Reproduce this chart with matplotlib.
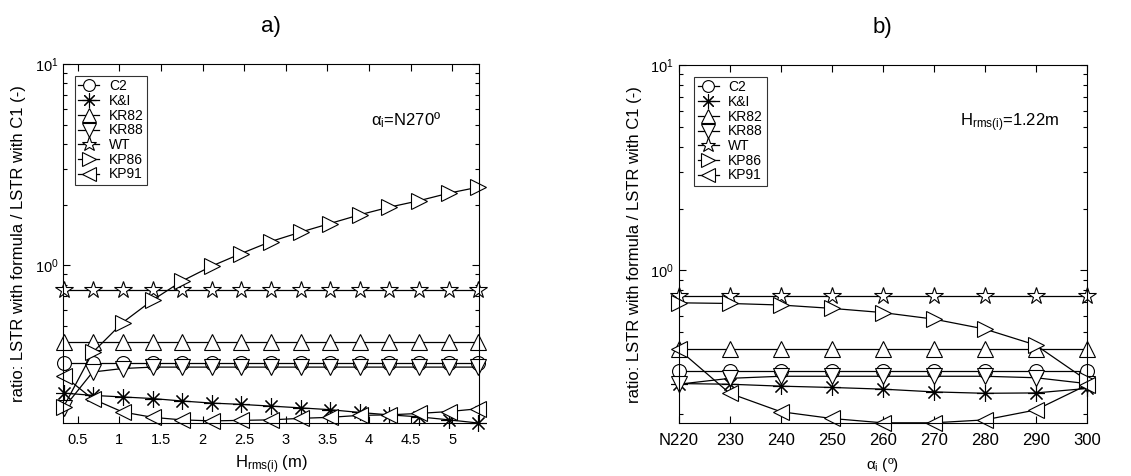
import matplotlib
matplotlib.use("Agg")
import matplotlib.pyplot as plt
from matplotlib.ticker import LogLocator, NullFormatter, FixedLocator

plt.rcParams['font.family'] = ['Liberation Sans', 'DejaVu Sans']
plt.rcParams['mathtext.fontset'] = 'custom'
plt.rcParams['mathtext.rm'] = 'Liberation Sans'
plt.rcParams['mathtext.it'] = 'Liberation Sans'

# ---------------- data: panel a) ----------------
H = [0.33, 0.68, 1.04, 1.40, 1.75, 2.11, 2.46, 2.82, 3.18, 3.53, 3.89, 4.24, 4.60, 4.96, 5.31]
a_C2 = [0.326] * 15
a_KI = [0.231, 0.225, 0.221, 0.217, 0.211, 0.206, 0.203, 0.199, 0.195, 0.191, 0.185, 0.180, 0.176, 0.170, 0.164]
a_KR82 = [0.415] * 15
a_KR88 = [0.194, 0.294, 0.306, 0.311, 0.311, 0.311, 0.311, 0.311, 0.311, 0.311, 0.311, 0.311, 0.311, 0.311, 0.311]
a_WT = [0.751] * 15
a_KP86 = [0.197, 0.368, 0.518, 0.670, 0.832, 0.989, 1.14, 1.31, 1.46, 1.61, 1.78, 1.94, 2.09, 2.28, 2.44]
a_KP91 = [0.282, 0.216, 0.186, 0.175, 0.170, 0.168, 0.169, 0.170, 0.173, 0.175, 0.179, 0.180, 0.183, 0.187, 0.193]

# ---------------- data: panel b) ----------------
alpha = [220, 230, 240, 250, 260, 270, 280, 290, 300]
alpha_labels = ['N220', '230', '240', '250', '260', '270', '280', '290', '300']
b_C2 = [0.324] * 9
b_KI = [0.281, 0.279, 0.273, 0.269, 0.264, 0.256, 0.252, 0.253, 0.266]
b_KR82 = [0.414] * 9
b_KR88 = [0.279, 0.298, 0.305, 0.305, 0.305, 0.305, 0.305, 0.300, 0.281]
b_WT = [0.75] * 9
b_KP86 = [0.695, 0.690, 0.678, 0.653, 0.623, 0.579, 0.518, 0.433, 0.292]
b_KP91 = [0.412, 0.252, 0.205, 0.190, 0.181, 0.181, 0.187, 0.209, 0.276]

names = ['C2', 'K&I', 'KR82', 'KR88', 'WT', 'KP86', 'KP91']
markers = ['o', (8, 2, 0), '^', 'v', '*', '>', '<']
msizes = [10, 12, 12, 12, 13, 12, 12]

fig = plt.figure(figsize=(11.31, 4.76), dpi=100)
W, Hh = 1131, 476
axA = fig.add_axes([63.3 / W, 1 - 423 / Hh, (479.3 - 63.3) / W, (423 - 64) / Hh])
axB = fig.add_axes([678.7 / W, 1 - 423.3 / Hh, (1086.7 - 678.7) / W, (423.3 - 65) / Hh])


def draw(ax, x, series, legx):
    for s, n, m, ms in zip(series, names, markers, msizes):
        ax.plot(x, s, color='black', lw=0.9, marker=m, ms=ms, mfc='white',
                mec='black', mew=0.8, label=n, clip_on=False)
    ax.set_yscale('log')
    ax.yaxis.set_major_locator(FixedLocator([1, 10]))
    ax.yaxis.set_minor_locator(LogLocator(base=10, subs=range(2, 10)))
    ax.yaxis.set_minor_formatter(NullFormatter())
    ax.set_yticklabels(['$10^{0}$', '$10^{1}$'])
    ax.tick_params(which='both', direction='in', top=True, right=True,
                   labelsize=10.5, width=0.8)
    ax.tick_params(which='major', length=5)
    ax.tick_params(axis='x', which='major', pad=7)
    ax.tick_params(which='minor', length=3)
    ax.set_ylabel('ratio: LSTR with formula / LSTR with C1 (-)', fontsize=12, labelpad=6)
    leg = ax.legend(loc='upper left', fontsize=10, frameon=True, fancybox=False,
                    edgecolor='black', handlelength=1.5, handletextpad=0.7,
                    labelspacing=0.05, borderpad=0.25, markerscale=0.85,
                    borderaxespad=0, bbox_to_anchor=(legx, 0.967))
    leg.get_frame().set_linewidth(0.8)
    for sp in ax.spines.values():
        sp.set_linewidth(0.8)


draw(axA, H, [a_C2, a_KI, a_KR82, a_KR88, a_WT, a_KP86, a_KP91], 0.028)
axA.set_xlim(0.327, 5.324)
axA.set_ylim(0.164, 10)
axA.set_xticks([0.5, 1, 1.5, 2, 2.5, 3, 3.5, 4, 4.5, 5])
axA.set_xticklabels(['0.5', '1', '1.5', '2', '2.5', '3', '3.5', '4', '4.5', '5'])
axA.set_xlabel('H$_{\\mathregular{rms(i)}}$ (m)', fontsize=12, labelpad=5)
axA.text(0.74, 0.83, '$\\mathregular{\\alpha_i}$=N270º', transform=axA.transAxes,
         fontsize=12)
axA.set_title('a)', fontsize=16, pad=23)

draw(axB, alpha, [b_C2, b_KI, b_KR82, b_KR88, b_WT, b_KP86, b_KP91], 0.038)
axB.set_xlim(220, 300)
axB.set_ylim(0.18, 10)
axB.set_xticks(alpha)
axB.set_xticklabels(alpha_labels, fontsize=12)
axB.set_xlabel('$\\mathregular{\\alpha_i}$ (º)', fontsize=11, labelpad=6)
axB.text(0.69, 0.83, 'H$_{\\mathregular{rms(i)}}$=1.22m', transform=axB.transAxes,
         fontsize=12)
axB.set_title('b)', fontsize=16, pad=23)

fig.savefig('out.png', dpi=100)
